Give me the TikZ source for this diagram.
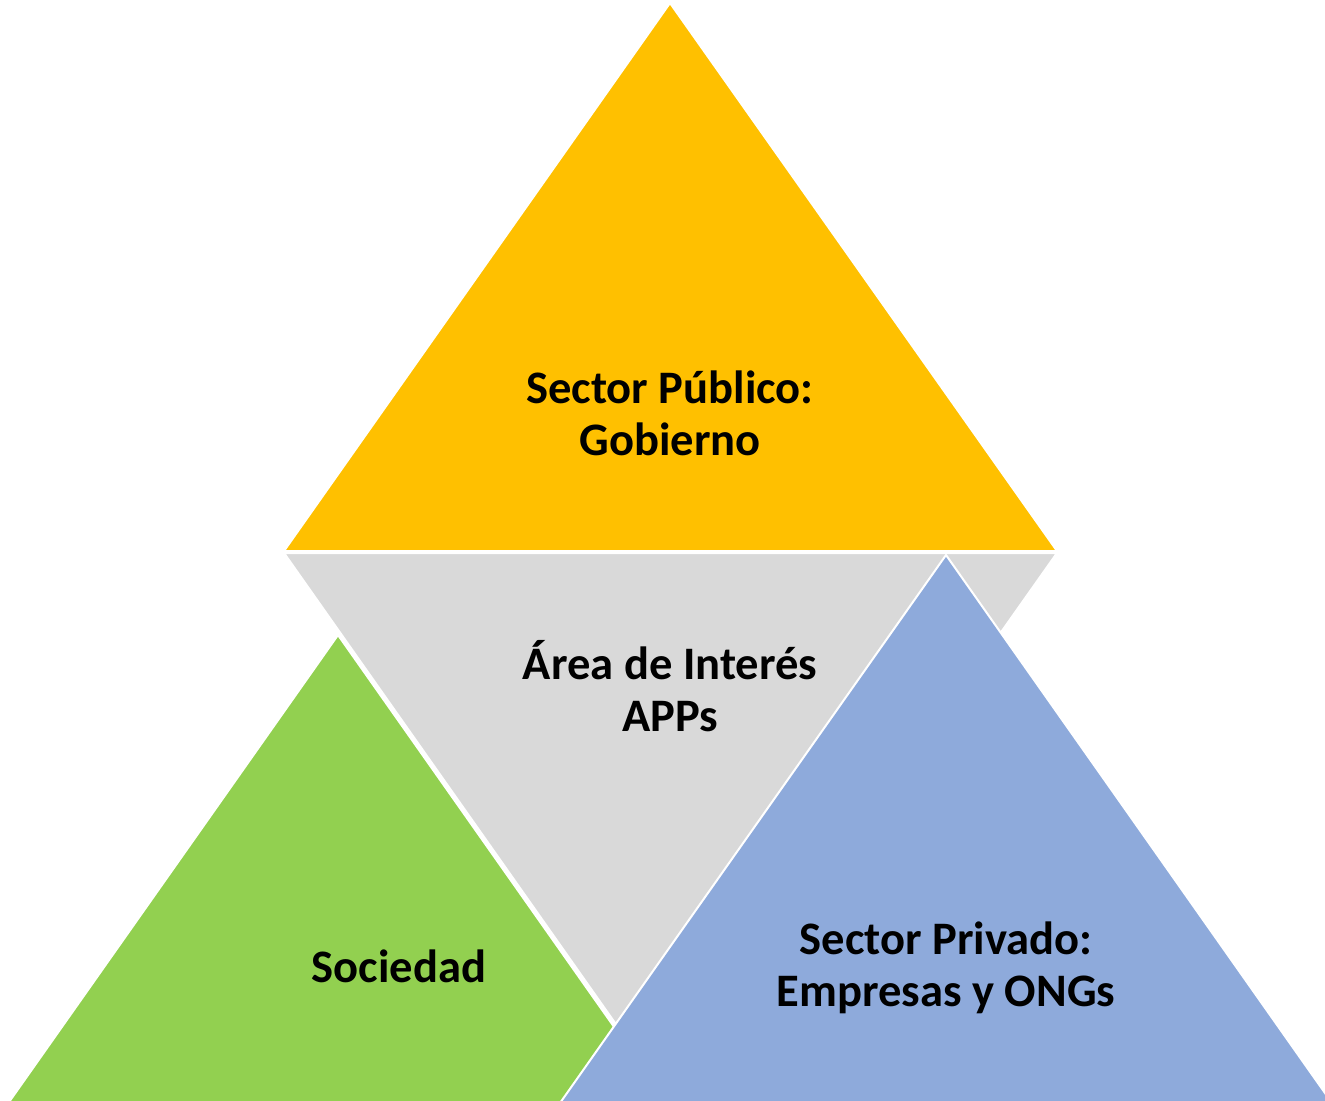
\documentclass[tikz,border=0pt]{standalone}
\usepackage{fontspec}
\setmainfont{Carlito}
\usepackage{tikz}

\definecolor{publico}{HTML}{FFC000}
\definecolor{interes}{HTML}{D9D9D9}
\definecolor{sociedad}{HTML}{92D050}
\definecolor{privado}{HTML}{8EAADB}

\begin{document}
\begin{tikzpicture}[x=0.02cm,y=-0.02cm,
  tri/.style={draw=white,line width=.04cm,line join=miter},
  lbl/.style={align=center,font=\fontsize{26.5}{29.5}\selectfont\bfseries,inner sep=0pt}]
\useasboundingbox (0,0) rectangle (1325,1101);
\clip (0,0) rectangle (1325,1101);
% centre, drawn first
\filldraw[tri,fill=interes] (284,553) -- (1057,553) -- (670,1101) -- cycle;
% top
\filldraw[tri,fill=publico] (670,3) -- (1057,551) -- (284,551) -- cycle;
% left
\filldraw[tri,fill=sociedad] (338,635) -- (724,1183) -- (-48,1183) -- cycle;
% right
\filldraw[tri,fill=privado] (946,555) -- (1332,1103) -- (560,1103) -- cycle;
\node[lbl] (pub) at (670,413) {Sector Público:\\Gobierno};
\node[lbl] (app) at (670,686) {Área de Interés\\APPs};
\node[lbl] (soc) at (399,966) {Sociedad};
\node[lbl] (priv) at (946,968) {Sector Privado:\\Empresas y ONGs};
\end{tikzpicture}
\end{document}
